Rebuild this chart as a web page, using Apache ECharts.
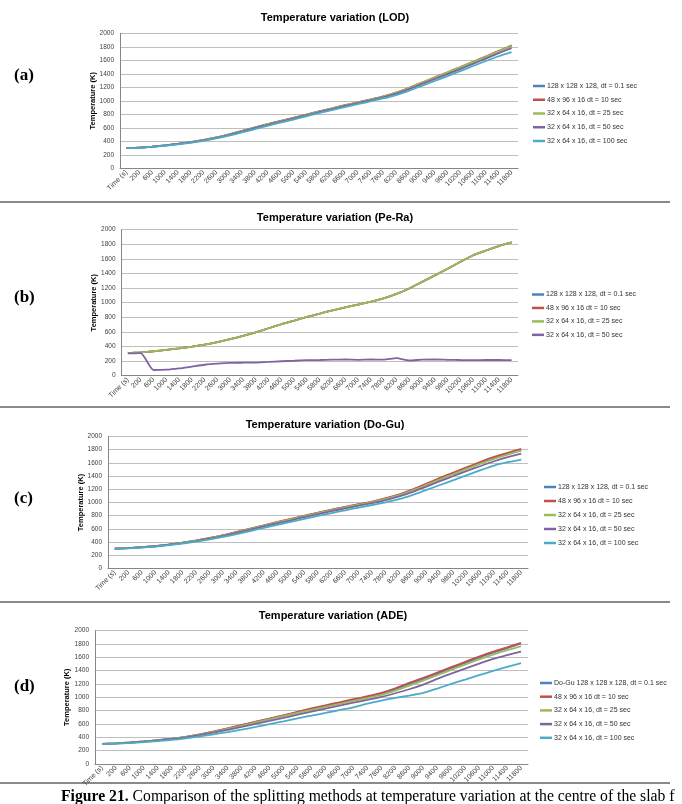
<!DOCTYPE html>
<html><head><meta charset="utf-8">
<script src="https://cdn.jsdelivr.net/npm/echarts@6/dist/echarts.min.js"></script>
<style>html,body{margin:0;padding:0;background:#fff}#c{width:682px;height:804px}</style>
</head><body><div id="c"></div>
<script>
const categories = ['Time (s)','200','600','1000','1400','1800','2200','2600','3000','3400','3800','4200','4600','5000','5400','5800','6200','6600','7000','7400','7800','8200','8600','9000','9400','9800','10200','10600','11000','11400','11800'];
const yTicks = {min: 0, max: 2000, interval: 200};

const titles = ['Temperature variation (LOD)','Temperature variation (Pe-Ra)','Temperature variation (Do-Gu)','Temperature variation (ADE)'];
const panelLabels = ['(a)','(b)','(c)','(d)'];
const yName = 'Temperature (K)';
const namesA = ['128 x 128 x 128, dt = 0.1 sec','48 x 96 x 16 dt = 10 sec','32 x 64 x 16, dt = 25 sec','32 x 64 x 16, dt = 50 sec','32 x 64 x 16, dt = 100 sec'];
const namesB = ['128 x 128 x 128, dt = 0.1 sec','48 x 96 x 16 dt = 10 sec','32 x 64 x 16, dt = 25 sec','32 x 64 x 16, dt = 50 sec'];
const namesC = ['128 x 128 x 128, dt = 0.1 sec','48 x 96 x 16 dt = 10 sec','32 x 64 x 16, dt = 25 sec','32 x 64 x 16, dt = 50 sec','32 x 64 x 16, dt = 100 sec'];
const namesD = ['Do-Gu 128 x 128 x 128, dt = 0.1 sec','48 x 96 x 16 dt = 10 sec','32 x 64 x 16, dt = 25 sec','32 x 64 x 16, dt = 50 sec','32 x 64 x 16, dt = 100 sec'];
const captionBold = 'Figure 21.';
const captionText = ' Comparison of the splitting methods at temperature variation at the centre of the slab f';

// (a) LOD
const aBlue   = [300,305,320,340,362,387,418,455,500,550,600,650,697,742,790,838,883,930,972,1015,1060,1115,1185,1262,1338,1413,1490,1567,1645,1728,1812];
const aRed    = [300,306,321,341,363,389,420,458,503,554,605,656,703,748,796,844,889,935,977,1020,1066,1122,1193,1270,1347,1423,1500,1578,1657,1740,1820];
const aGreen  = [300,305,320,340,362,388,419,457,502,552,603,654,700,745,793,841,886,933,975,1018,1063,1120,1190,1268,1345,1420,1497,1574,1652,1733,1815];
const aPurple = [300,305,319,339,360,385,415,452,496,545,595,645,692,737,784,832,877,923,965,1008,1052,1105,1172,1247,1322,1396,1470,1547,1625,1705,1780];
const aCyan   = [298,302,316,334,355,378,407,442,484,532,580,630,677,722,770,818,862,908,950,992,1035,1085,1148,1220,1293,1365,1440,1515,1590,1660,1720];

// (b) Pe-Ra
const bBlue   = [310,320,335,355,375,398,425,460,500,545,595,650,705,755,805,850,895,935,975,1015,1060,1120,1195,1285,1375,1465,1560,1650,1715,1775,1825];
const bRed    = [310,320,335,355,375,398,425,460,500,545,595,650,705,755,805,850,895,935,975,1015,1060,1120,1195,1285,1375,1465,1560,1650,1715,1775,1825];
const bGreen  = [310,320,335,355,375,398,425,460,500,545,595,650,705,755,805,850,895,935,975,1015,1060,1120,1195,1285,1375,1465,1560,1650,1715,1775,1825];
const bPurple = [305,310,78,82,100,125,150,165,175,178,180,188,198,205,212,215,220,222,218,222,220,240,208,220,222,218,215,214,215,215,214];

// (c) Do-Gu
const cBlue   = [300,309,324,339,363,390,422,459,501,550,600,650,700,747,795,843,888,930,970,1010,1058,1117,1190,1273,1358,1440,1520,1598,1670,1732,1790];
const cRed    = [300,310,325,340,365,392,425,462,505,555,605,655,705,752,800,848,893,935,975,1015,1065,1125,1200,1285,1372,1455,1535,1615,1690,1752,1812];
const cGreen  = [300,309,324,339,363,390,421,458,500,549,599,649,698,745,792,840,885,927,967,1007,1055,1113,1185,1267,1350,1432,1512,1590,1662,1727,1785];
const cPurple = [300,308,322,337,360,386,416,452,493,540,588,637,685,731,778,825,869,911,951,991,1037,1093,1162,1241,1323,1402,1478,1553,1625,1687,1740];
const cCyan   = [298,305,318,332,354,378,406,440,478,522,568,615,662,707,752,797,840,882,922,962,1003,1050,1115,1190,1265,1340,1415,1490,1560,1610,1650];

// (d) ADE
const dBlue   = [300,310,322,338,357,379,407,443,486,532,581,630,679,728,777,826,871,916,960,1005,1054,1122,1200,1276,1355,1435,1515,1595,1667,1735,1805];
const dRed    = [300,310,322,338,358,380,408,445,488,535,585,633,680,730,782,833,880,925,970,1015,1065,1135,1215,1290,1370,1450,1530,1610,1683,1748,1815];
const dGreen  = [300,309,321,337,356,378,405,440,481,526,574,622,670,718,765,812,857,902,945,988,1035,1100,1175,1250,1330,1410,1490,1568,1640,1705,1765];
const dPurple = [300,308,320,335,353,375,400,433,470,512,555,600,645,692,738,785,830,875,918,960,1005,1060,1120,1190,1275,1355,1430,1505,1575,1630,1685];
const dCyan   = [298,305,315,328,343,360,385,415,445,478,515,555,598,640,685,725,765,808,848,905,950,990,1025,1065,1130,1200,1265,1330,1395,1455,1510];

const colors = ['#4F81BD','#C0504D','#9BBB59','#8064A2','#4BACC6'];
const FONT = '"Liberation Sans", Arimo, sans-serif';

const panels = [
  {names: namesA, data: [aBlue,aRed,aGreen,aPurple,aCyan], grid:{left:120,top:33.3,width:398,height:135}, titleY:12.5, titleX:335, nameGap:23, legend:{left:533, top:82, gap:5.75}, label:{x:14,y:76}},
  {names: namesB, data: [bBlue,bRed,bGreen,bPurple], grid:{left:121.5,top:229.7,width:396.5,height:146}, titleY:212, titleX:335, nameGap:23.5, legend:{left:532, top:290.5, gap:5.45}, label:{x:14,y:298}},
  {names: namesC, data: [cBlue,cRed,cGreen,cPurple,cCyan], grid:{left:108,top:436.5,width:420,height:132}, titleY:419, titleX:325, nameGap:23.5, legend:{left:544, top:483, gap:6}, label:{x:14,y:499}},
  {names: namesD, data: [dBlue,dRed,dGreen,dPurple,dCyan], grid:{left:95,top:630.5,width:433,height:133.5}, titleY:610.5, titleX:333, nameGap:24, legend:{left:540, top:679, gap:5.7}, label:{x:14,y:687}}
];

const option = {
  animation: false,
  backgroundColor: '#fff',
  textStyle: {fontFamily: FONT},
  title: [], grid: [], xAxis: [], yAxis: [], legend: [], series: [], graphic: []
};

panels.forEach((p, k) => {
  option.title.push({text: titles[k], left: p.titleX, top: p.titleY, textAlign: 'center', padding: 0,
    textStyle: {fontFamily: FONT, fontSize: 11, fontWeight: 'bold', color: '#000'}});
  option.grid.push(Object.assign({containLabel: false}, p.grid));
  option.xAxis.push({type: 'category', gridIndex: k, data: categories, boundaryGap: true,
    axisLine: {lineStyle: {color: '#868686', width: 1}},
    axisTick: {show: false},
    axisLabel: {interval: 0, rotate: 45, fontSize: 7, color: '#404040', margin: 3, fontFamily: FONT}});
  option.yAxis.push({type: 'value', gridIndex: k, min: yTicks.min, max: yTicks.max, interval: yTicks.interval,
    name: yName, nameLocation: 'middle', nameGap: p.nameGap, nameRotate: 90, nameMoveOverlap: false,
    nameTextStyle: {fontSize: 7.5, fontWeight: 'bold', color: '#000', fontFamily: FONT},
    axisLine: {show: true, lineStyle: {color: '#868686', width: 1}},
    axisTick: {show: false},
    splitLine: {lineStyle: {color: '#BEBEBE', width: 1.2}},
    axisLabel: {fontSize: 6.5, color: '#404040', margin: 6, fontFamily: FONT, formatter: v => String(v)}});
  option.legend.push({orient: 'vertical', left: p.legend.left, top: p.legend.top, padding: 0,
    data: p.names, icon: 'rect', itemWidth: 12, itemHeight: 2.5, itemGap: p.legend.gap,
    selectedMode: false,
    textStyle: {fontSize: 7, color: '#333', fontFamily: FONT, lineHeight: 8, padding: [0,0,0,-3]}});
  p.data.forEach((arr, j) => {
    option.series.push({type: 'line', name: p.names[j], xAxisIndex: k, yAxisIndex: k, data: arr,
      showSymbol: false, symbol: 'none', smooth: 0.2, color: colors[j],
      lineStyle: {width: 1.8, color: colors[j]}});
  });
  option.graphic.push({type: 'text', left: p.label.x, top: p.label.y - 9,
    style: {text: panelLabels[k], font: 'bold 17px "Liberation Serif", serif', fill: '#000'}});
});

// separators
[202, 407, 602, 783].forEach(y => {
  option.graphic.push({type: 'rect', left: 0, top: y - 1, shape: {width: 670, height: 2}, style: {fill: '#8a8a8a'}});
});

// caption (cut off at the bottom edge)
option.graphic.push({type: 'text', left: 61, top: 789,
  style: {text: '{b|' + captionBold + '}{n|' + captionText + '}',
    rich: {b: {font: 'bold 15.7px "Liberation Serif", serif', fill: '#000'},
           n: {font: '15.7px "Liberation Serif", serif', fill: '#000'}}}});

echarts.init(document.getElementById('c'), null, {renderer: 'canvas'}).setOption(option);
</script></body></html>
